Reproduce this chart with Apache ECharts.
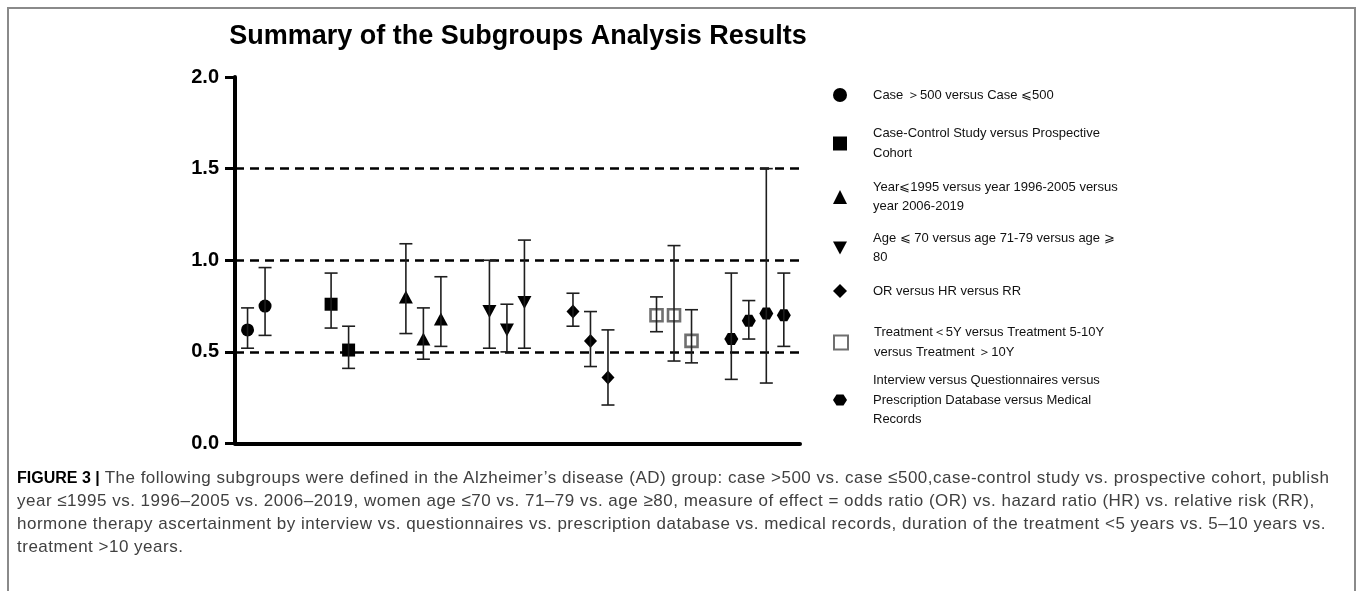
<!DOCTYPE html>
<html>
<head>
<meta charset="utf-8">
<script src="https://cdn.jsdelivr.net/npm/echarts@6/dist/echarts.min.js"></script>
<style>
  html, body { margin: 0; padding: 0; background: #fff; }
  #wrap { position: relative; width: 1360px; height: 591px; overflow: hidden; }
  #chart { position: absolute; left: 0; top: 0; width: 1360px; height: 591px; }
  #caption {
    position: absolute; left: 17px; top: 466px; width: 1340px;
    font-family: "Liberation Sans", Arial, Helvetica, sans-serif;
    font-size: 17px; line-height: 23px; color: #404040;
    letter-spacing: 0.5px; white-space: nowrap;
  }
  #caption b { color: #000; letter-spacing: 0; font-weight: bold; font-size: 16px; }
</style>
</head>
<body>
<div id="wrap">
  <div id="chart"></div>
  <div id="caption"></div>
</div>
<script>
// Subgroup labels (legend text, with manual line breaks)
const subgroupLabels = [
  'Case \uFF1E500 versus Case \u2A7D500',
  'Case-Control Study versus Prospective\nCohort',
  'Year\u2A7D1995 versus year 1996-2005 versus\nyear 2006-2019',
  'Age \u2A7D 70 versus age 71-79 versus age \u2A7E\n80',
  'OR versus HR versus RR',
  'Treatment\uFF1C5Y versus Treatment 5-10Y\nversus Treatment \uFF1E10Y',
  'Interview versus Questionnaires versus\nPrescription Database versus Medical\nRecords'
];

// Pooled estimate for each level within each subgroup
const pointEstimates = [
  [0.62, 0.75],
  [0.76, 0.51],
  [0.80, 0.57, 0.68],
  [0.72, 0.62, 0.77],
  [0.72, 0.56, 0.36],
  [0.70, 0.70, 0.56],
  [0.57, 0.67, 0.71, 0.70]
];

// Lower and upper bounds of the 95% confidence intervals
const ciLower = [
  [0.52, 0.59],
  [0.63, 0.41],
  [0.60, 0.46, 0.53],
  [0.52, 0.50, 0.52],
  [0.64, 0.42, 0.21],
  [0.61, 0.45, 0.44],
  [0.35, 0.57, 0.33, 0.53]
];
const ciUpper = [
  [0.74, 0.96],
  [0.93, 0.64],
  [1.09, 0.74, 0.91],
  [1.00, 0.76, 1.11],
  [0.82, 0.72, 0.62],
  [0.80, 1.08, 0.73],
  [0.93, 0.78, 1.50, 0.93]
];

// Y axis ticks and reference lines
const yTicks = [0.0, 0.5, 1.0, 1.5, 2.0];
const referenceLines = [0.5, 1.0, 1.5];

// Figure caption, one entry per printed line
const captionTitle = 'FIGURE 3 |';
const captionLines = [
  'The following subgroups were defined in the Alzheimer\u2019s disease (AD) group: case >500 vs. case \u2264500,case-control study vs. prospective cohort, publish',
  'year \u22641995 vs. 1996\u20132005 vs. 2006\u20132019, women age \u226470 vs. 71\u201379 vs. age \u226580, measure of effect = odds ratio (OR) vs. hazard ratio (HR) vs. relative risk (RR),',
  'hormone therapy ascertainment by interview vs. questionnaires vs. prescription database vs. medical records, duration of the treatment <5 years vs. 5\u201310 years vs.',
  'treatment >10 years.'
];

// ---- marker styling per subgroup ----
const INV_TRIANGLE = 'path://M0,0L2,0L1,1.85Z';
const HEXAGON = 'path://M1,0L3,0L4,1.6L3,3.2L1,3.2L0,1.6Z';
const markerStyles = [
  { symbol: 'circle',    size: 13,       item: { color: '#000' } },
  { symbol: 'rect',      size: 13,       item: { color: '#000' } },
  { symbol: 'triangle',  size: [14, 13], item: { color: '#000' } },
  { symbol: INV_TRIANGLE, size: [14, 13], item: { color: '#000' } },
  { symbol: 'diamond',   size: [13, 14], item: { color: '#000' } },
  { symbol: 'rect',      size: 12,       item: { color: 'rgba(255,255,255,0)', borderColor: '#6f6f6f', borderWidth: 2.6 } },
  { symbol: HEXAGON,     size: [14, 12], item: { color: '#000' } }
];

// Horizontal layout: one slot per subgroup, members spread around the slot centre
const memberStep = 0.2095;
function xOf(g, i, n) { return g + (i - (n - 1) / 2) * memberStep; }

const FONT = '"Liberation Sans", Arial, Helvetica, sans-serif';

const scatterSeries = [];
const barData = [];
pointEstimates.forEach(function (vals, g) {
  const n = vals.length;
  const pts = vals.map(function (v, i) { return [xOf(g, i, n), v]; });
  vals.forEach(function (v, i) {
    barData.push([xOf(g, i, n), ciLower[g][i], ciUpper[g][i]]);
  });
  const ms = markerStyles[g];
  const s = {
    name: subgroupLabels[g],
    type: 'scatter',
    symbol: ms.symbol,
    symbolSize: ms.size,
    itemStyle: Object.assign({ opacity: 1 }, ms.item),
    emphasis: { disabled: true },
    z: 4,
    data: pts
  };
  if (g === 0) {
    s.markLine = {
      silent: true,
      symbol: 'none',
      label: { show: false },
      lineStyle: { color: '#000', width: 2.6, type: [9, 6] },
      data: referenceLines.map(function (v) { return { yAxis: v }; }),
      z: 1
    };
  }
  scatterSeries.push(s);
});

// Error bars with caps
const errorBarSeries = {
  type: 'custom',
  name: 'ci',
  z: 5,
  silent: true,
  data: barData,
  encode: { x: 0, y: [1, 2] },
  renderItem: function (params, api) {
    const x = api.value(0);
    const lo = api.coord([x, api.value(1)]);
    const hi = api.coord([x, api.value(2)]);
    const hw = 6.5;
    const st = { stroke: '#1e1e1e', lineWidth: 1.6 };
    return {
      type: 'group',
      children: [
        { type: 'line', shape: { x1: lo[0], y1: lo[1], x2: hi[0], y2: hi[1] }, style: st },
        { type: 'line', shape: { x1: hi[0] - hw, y1: hi[1], x2: hi[0] + hw, y2: hi[1] }, style: st },
        { type: 'line', shape: { x1: lo[0] - hw, y1: lo[1], x2: lo[0] + hw, y2: lo[1] }, style: st }
      ]
    };
  }
};

// One legend block per subgroup, stacked down the right-hand side
const legendCenters = [95, 143.5, 197, 248, 291, 342.5, 400];
const LEGEND_LH = 19.5;
const legends = subgroupLabels.map(function (label, g) {
  const lines = label.split('\n').length;
  return {
    data: [label],
    orient: 'vertical',
    left: 833,
    top: legendCenters[g] - (lines * LEGEND_LH) / 2,
    padding: 0,
    itemWidth: 14,
    itemHeight: 14,
    selectedMode: false,
    textStyle: {
      fontFamily: FONT,
      fontSize: 13,
      color: '#111',
      lineHeight: LEGEND_LH,
      padding: [0, 0, 0, 21]
    }
  };
});

// Caption text below the plot
const cap = document.getElementById('caption');
captionLines.forEach(function (line, k) {
  const div = document.createElement('div');
  if (k === 0) {
    const b = document.createElement('b');
    b.textContent = captionTitle;
    div.appendChild(b);
    div.appendChild(document.createTextNode(' ' + line));
  } else {
    div.textContent = line;
  }
  cap.appendChild(div);
});

const chart = echarts.init(document.getElementById('chart'), null, { renderer: 'canvas' });
chart.setOption({
  backgroundColor: 'transparent',
  animation: false,
  title: {
    text: 'Summary of the Subgroups Analysis Results',
    left: 513,
    top: 18,
    textAlign: 'center',
    textStyle: { fontFamily: FONT, fontSize: 27, fontWeight: 'bold', color: '#000' }
  },
  legend: legends,
  grid: { left: 235, right: 560, top: 77, bottom: 147.5, containLabel: false },
  xAxis: {
    type: 'value',
    min: -0.255,
    max: 6.508,
    axisLine: { show: true, onZero: false, lineStyle: { color: '#000', width: 4 } },
    axisTick: { show: false },
    axisLabel: { show: false },
    splitLine: { show: false }
  },
  yAxis: {
    type: 'value',
    min: yTicks[0],
    max: yTicks[yTicks.length - 1],
    interval: 0.5,
    axisLine: { show: true, onZero: false, lineStyle: { color: '#000', width: 4 } },
    axisTick: { show: true, length: 10, lineStyle: { color: '#000', width: 3 } },
    axisLabel: {
      margin: 16,
      fontFamily: FONT,
      fontSize: 20,
      fontWeight: 'bold',
      color: '#000',
      formatter: function (v) { return v.toFixed(1); }
    },
    splitLine: { show: false }
  },
  series: scatterSeries.concat([errorBarSeries]),
  graphic: [
    {
      type: 'polyline',
      silent: true,
      shape: { points: [[8, 600], [8, 8], [1355, 8], [1355, 600]] },
      style: { stroke: '#8a8a8a', lineWidth: 2, fill: null }
    }
  ]
});
</script>
</body>
</html>
